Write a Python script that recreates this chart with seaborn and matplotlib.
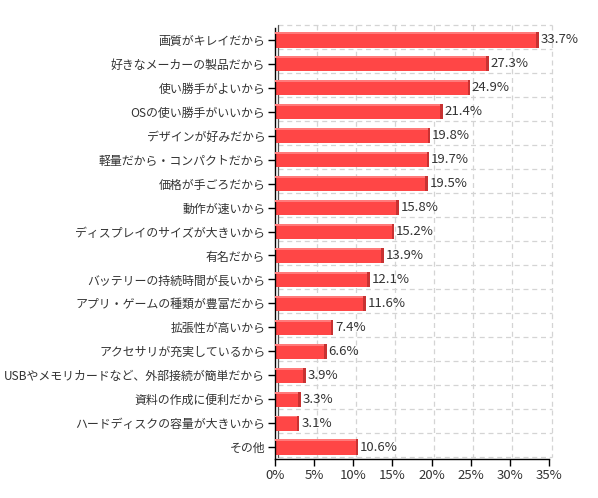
import matplotlib
matplotlib.use("Agg")
import matplotlib.pyplot as plt
import matplotlib.transforms as mtransforms
import seaborn as sns
import pandas as pd
import numpy as np

categories = [
    "画質がキレイだから",
    "好きなメーカーの製品だから",
    "使い勝手がよいから",
    "OSの使い勝手がいいから",
    "デザインが好みだから",
    "軽量だから・コンパクトだから",
    "価格が手ごろだから",
    "動作が速いから",
    "ディスプレイのサイズが大きいから",
    "有名だから",
    "バッテリーの持続時間が長いから",
    "アプリ・ゲームの種類が豊富だから",
    "拡張性が高いから",
    "アクセサリが充実しているから",
    "USBやメモリカードなど、外部接続が簡単だから",
    "資料の作成に便利だから",
    "ハードディスクの容量が大きいから",
    "その他",
]
values = [33.7, 27.3, 24.9, 21.4, 19.8, 19.7, 19.5, 15.8, 15.2, 13.9,
          12.1, 11.6, 7.4, 6.6, 3.9, 3.3, 3.1, 10.6]
xticks = [0, 5, 10, 15, 20, 25, 30, 35]

df = pd.DataFrame({"cat": categories, "val": values})

sns.set_theme(style="white")
plt.rcParams["font.family"] = ["Noto Sans CJK JP", "DejaVu Sans"]

fig = plt.figure(figsize=(5.98, 4.98), dpi=100)
ax = fig.add_axes([275 / 598, 1 - 459 / 498, (549 - 275) / 598, (459 - 28) / 498])

n = len(categories)
ax.set_xlim(0, 35)
ax.set_ylim(n - 0.5, -0.5)

# gridlines with slight 3D offset
off = mtransforms.offset_copy(ax.transData, fig=fig, x=2.5, y=2.5, units="dots")
for xv in xticks[1:]:
    ax.plot([xv, xv], [-0.5, n - 0.5], color="#d4d4d4", lw=0.9,
            ls=(0, (4, 3)), transform=off, zorder=0, clip_on=False)
for yb in np.arange(-0.5, n, 1.0):
    ax.plot([0, 35], [yb, yb], color="#d4d4d4", lw=0.9,
            ls=(0, (4, 3)), transform=off, zorder=0, clip_on=False)
ax.plot([0, 0], [-0.5, n - 0.5], color="#555555", lw=0.9, transform=off,
        zorder=0.5, clip_on=False)

sns.barplot(data=df, x="val", y="cat", orient="h", color="#ff4646",
            width=0.63, saturation=1, ax=ax, zorder=2, linewidth=0,
            edgecolor="none")

# pseudo 3D side/top shading
vals = np.array(values)
ypos = np.arange(n)
ax.barh(ypos, 0.3, left=vals - 0.3, height=0.63, color="#c83232",
        linewidth=0, zorder=3)
ax.barh(ypos - 0.63 / 2 + 0.04, vals - 0.3, height=0.08, color="#ff7a7a",
        linewidth=0, zorder=3)

for y, v in zip(ypos, values):
    ax.text(v + 0.25, y, f"{v}%", va="center", ha="left", fontsize=9.5,
            color="#333333", zorder=4)

ax.set_xticks(xticks)
ax.set_xticklabels([f"{t}%" for t in xticks], fontsize=9.5, color="#333333")
ax.set_yticks(ypos)
ax.set_yticklabels(categories, fontsize=8.6, color="#333333")
ax.set_xlabel("")
ax.set_ylabel("")
ax.tick_params(axis="both", which="both", length=5, width=1, color="black",
               direction="out", pad=2, left=True, bottom=True)
for s in ["top", "right"]:
    ax.spines[s].set_visible(False)
for s in ["left", "bottom"]:
    ax.spines[s].set_color("black")
    ax.spines[s].set_linewidth(1)
ax.grid(False)
ax.set_facecolor("white")

fig.savefig("out.png", dpi=100, facecolor="white")
